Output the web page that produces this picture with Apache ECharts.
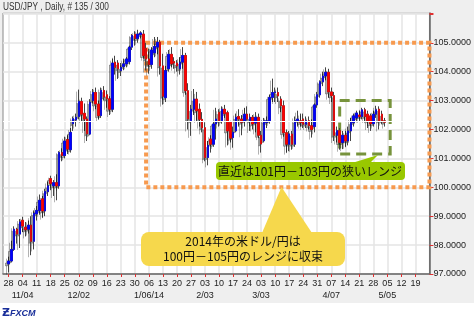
<!DOCTYPE html>
<html><head><meta charset="utf-8">
<script src="https://cdn.jsdelivr.net/npm/echarts@6/dist/echarts.min.js"></script>
<style>html,body{margin:0;padding:0;background:#fff}#c{width:474px;height:321px}</style>
</head><body><div id="c"></div><script>
// trading-day categories (Mon-Fri), incl. empty days before/after the data
const dates = [
'10/24','10/25',
'10/28','10/29','10/30','10/31','11/01',
'11/04','11/05','11/06','11/07','11/08',
'11/11','11/12','11/13','11/14','11/15',
'11/18','11/19','11/20','11/21','11/22',
'11/25','11/26','11/27','11/28','11/29',
'12/02','12/03','12/04','12/05','12/06',
'12/09','12/10','12/11','12/12','12/13',
'12/16','12/17','12/18','12/19','12/20',
'12/23','12/24','12/25','12/26','12/27',
'12/30','12/31','01/01','01/02','01/03',
'01/06','01/07','01/08','01/09','01/10',
'01/13','01/14','01/15','01/16','01/17',
'01/20','01/21','01/22','01/23','01/24',
'01/27','01/28','01/29','01/30','01/31',
'02/03','02/04','02/05','02/06','02/07',
'02/10','02/11','02/12','02/13','02/14',
'02/17','02/18','02/19','02/20','02/21',
'02/24','02/25','02/26','02/27','02/28',
'03/03','03/04','03/05','03/06','03/07',
'03/10','03/11','03/12','03/13','03/14',
'03/17','03/18','03/19','03/20','03/21',
'03/24','03/25','03/26','03/27','03/28',
'03/31','04/01','04/02','04/03','04/04',
'04/07','04/08','04/09','04/10','04/11',
'04/14','04/15','04/16','04/17','04/18',
'04/21','04/22','04/23','04/24','04/25',
'04/28','04/29','04/30','05/01','05/02',
'05/05','05/06','05/07','05/08','05/09',
'05/12','05/13','05/14','05/15','05/16',
'05/19','05/20','05/21','05/22','05/23',
'05/26'];
const firstPriceDate = '10/28';

const tickDates = ['10/28','11/04','11/11','11/18','11/25','12/02','12/09','12/16','12/23','12/30','01/06','01/13','01/20','01/27','02/03','02/10','02/17','02/24','03/03','03/10','03/17','03/24','03/31','04/07','04/14','04/21','04/28','05/05','05/12','05/19'];
const tickLabels = ['28','04','11','18','25','02','09','16','23','30','06','13','20','27','03','10','17','24','03','10','17','24','31','07','14','21','28','05','12','19'];
const monthLabels = ['','11/04','','','','12/02','','','','','1/06/14','','','','2/03','','','','3/03','','','','','4/07','','','','5/05','',''];
const yLabelMax = 105;

const open = [
97.35,97.45,97.85,98.55,98.38, 98.86,98.62,98.55,98.69,98.13, 99.08,99.20,99.60,99.18,99.85,
100.30,100.05,100.16,100.05,101.20, 101.10,101.65,101.30,102.20,102.33, 102.45,102.97,102.56,102.36,101.84,
103.00,103.28,102.88,102.48,103.35, 103.20,103.06,102.70,104.33,104.30, 104.04,104.18,104.27,104.35,104.85,
105.29,105.15,105.28,105.30,104.80, 104.44,104.25,104.65,104.85,105.02, 104.20,103.10,104.10,104.60,104.35,
104.30,104.10,104.33,104.56,103.34, 102.30,102.70,103.05,102.70,102.35, 102.06,101.03,101.67,101.49,102.19,
102.59,102.30,102.70,102.58,102.25, 101.72,101.95,102.45,102.36,102.30, 102.53,102.30,102.42,102.22,102.42,
101.80,101.61,102.24,102.30,103.11, 103.28,103.28,103.05,102.82,101.89, 101.49,101.84,101.49,102.30,102.30,
102.36,102.18,102.30,102.13,102.10, 102.85,103.20,103.65,103.85,103.98, 103.30,103.17,101.80,101.96,101.55,
101.80,101.60,101.95,102.24,102.40, 102.50,102.45,102.68,102.53,102.47, 102.20,102.53,102.70,102.53,102.30];
const close = [
97.45,97.85,98.55,98.38,98.80, 98.66,98.53,98.69,98.13,99.10, 99.20,99.55,99.18,99.85,100.05,
100.13,100.16,100.05,101.20,101.10, 101.60,101.32,101.90,102.37,102.42, 102.97,102.53,102.36,101.85,102.94,
103.28,102.88,102.48,103.35,103.12, 103.06,102.70,104.30,104.15,104.10, 104.15,104.27,104.44,104.85,105.25,
105.15,105.30,105.34,104.56,104.44, 104.25,104.75,104.87,105.02,104.20, 103.15,104.04,104.60,104.27,104.30,
104.20,104.33,104.56,103.34,102.36, 102.70,103.05,102.65,102.35,102.06, 101.03,101.45,101.49,102.19,102.36,
102.30,102.70,102.55,101.95,101.70, 101.90,102.42,102.36,102.25,102.53, 102.36,102.42,102.19,102.42,101.80,
101.50,102.30,102.30,103.11,103.28, 103.30,103.16,102.82,101.89,101.49, 101.84,101.49,102.30,102.36,102.24,
102.18,102.30,102.13,102.00,102.85, 103.20,103.65,103.85,103.98,103.30, 103.17,101.80,101.96,101.55,101.80,
101.60,101.95,102.24,102.47,102.57, 102.45,102.68,102.45,102.30,102.20, 102.53,102.68,102.30,102.30,102.25];
const low = [
97.05,97.40,97.80,98.05,97.90, 98.45,98.30,98.40,97.65,97.85, 98.85,99.05,98.95,99.00,99.70,
99.90,99.70,99.55,99.95,100.90, 101.00,101.15,101.20,101.95,102.10, 102.35,102.30,101.95,101.60,101.80,
102.90,102.70,102.35,102.40,103.00, 102.75,102.50,102.60,103.90,103.75, 103.85,104.05,104.15,104.25,104.75,
104.90,105.00,105.15,104.45,104.04, 103.93,104.10,104.50,104.60,103.90, 102.86,102.95,104.00,104.15,104.10,
104.00,103.90,104.10,103.20,102.00, 101.78,102.50,102.30,102.10,101.90, 100.90,100.76,101.20,101.40,101.65,
102.10,102.20,102.40,101.45,101.55, 101.37,101.90,102.10,101.80,102.10, 102.30,101.95,102.00,101.90,101.70,
101.20,101.55,102.05,102.20,102.95, 102.95,102.95,102.60,101.75,101.20, 101.25,101.30,101.40,102.10,102.10,
102.05,102.05,102.00,101.72,101.90, 102.75,103.10,103.50,103.70,103.10, 102.95,101.60,101.55,101.30,101.32,
101.40,101.45,101.60,102.10,102.25, 102.30,102.35,102.30,102.05,101.95, 102.10,102.40,102.00,102.20,102.10];
const high = [
97.60,98.15,98.65,98.60,98.90, 98.98,98.80,98.85,99.00,99.20, 99.35,99.75,99.70,99.95,100.20,
100.40,100.25,100.45,101.25,101.35, 101.75,101.80,102.05,102.45,102.55, 103.38,103.10,102.90,102.45,103.05,
103.40,103.45,103.00,103.45,103.50, 103.35,103.15,104.45,104.55,104.40, 104.30,104.45,104.50,104.90,105.30,
105.40,105.45,105.40,105.44,105.00, 104.80,104.85,105.20,105.20,105.10, 104.62,104.20,104.75,104.85,104.50,
104.40,104.50,104.85,104.65,103.60, 102.85,103.40,103.30,102.90,102.60, 102.25,101.60,101.80,102.25,102.75,
102.70,102.80,102.85,102.65,102.30, 102.10,102.55,102.70,102.50,102.75, 102.80,102.55,102.50,102.60,102.55,
101.95,102.40,102.45,103.20,103.76, 103.45,103.45,103.15,103.00,102.00, 101.95,101.95,102.45,102.65,102.55,
102.55,102.45,102.45,102.35,102.90, 103.30,103.70,104.00,104.15,104.10, 103.45,103.30,102.10,102.05,101.95,
101.95,102.10,102.40,102.55,102.65, 102.65,102.75,102.75,102.65,102.55, 102.65,102.82,102.80,102.65,102.40];

const currentPrice = 102.30;
const rangeBox = {from:'01/03', to:'05/26', low:100, high:105};
const recentBox = {from:'04/10', to:'05/06', low:101.15, high:103.0};

const start = dates.indexOf(firstPriceDate);
const ohlc = dates.map((d,i)=>{const j=i-start; return (j>=0&&j<open.length)?[open[j],close[j],low[j],high[j]]:'-';});
const bodies = dates.map((d,i)=>{const j=i-start; return (j>=0&&j<open.length)?[open[j],close[j],Math.min(open[j],close[j]),Math.max(open[j],close[j])]:'-';});

const isTick = (idx, val) => tickDates.indexOf(val) >= 0;
const isMonth = (idx, val) => { const k = tickDates.indexOf(val); return k >= 0 && monthLabels[k] !== ''; };
const chart = echarts.init(document.getElementById('c'));
chart.setOption({
  animation:false,
  backgroundColor:'#efefef',
  textStyle:{fontFamily:'"Liberation Sans", Arial, sans-serif'},
  grid:{left:3, top:13, width:429, height:261, show:true, backgroundColor:'#fff', borderColor:'#888', borderWidth:1},
  xAxis:[
   {type:'category', data:dates, boundaryGap:false,
    axisLine:{show:true, lineStyle:{color:'#666', width:1.5}},
    axisTick:{show:true, interval:isTick, length:3, lineStyle:{color:'#e03030', width:1}},
    axisLabel:{interval:isTick, showMinLabel:true, showMaxLabel:true, color:'#222', fontSize:9, margin:5,
      formatter:(v)=>{const k=tickDates.indexOf(v); return k<0?'':tickLabels[k];}},
    splitLine:{show:true, interval:isTick, lineStyle:{color:'#e4e4e4', width:1.5}}},
   {type:'category', data:dates, boundaryGap:false, position:'bottom', offset:12,
    axisLine:{show:false}, axisTick:{show:false}, splitLine:{show:false},
    axisLabel:{interval:isMonth, showMinLabel:true, showMaxLabel:true, color:'#222', fontSize:9, margin:5,
      formatter:(v)=>{const k=tickDates.indexOf(v); return k<0?'':monthLabels[k];}}}
  ],
  yAxis:{type:'value', position:'right', min:97, max:106.03, interval:1,
    axisLine:{show:true, lineStyle:{color:'#666', width:1.5}},
    axisTick:{show:true, length:4, lineStyle:{color:'#e03030'}},
    axisLabel:{color:'#222', fontSize:9, margin:4, formatter:(v)=> v>yLabelMax+0.01 ? '' : v.toFixed(4)},
    splitLine:{show:true, lineStyle:{color:'#e4e4e4', width:1.5}}},
  series:[
    {type:'candlestick', data:ohlc, barWidth:2, silent:true,
     itemStyle:{color:'#555', color0:'#555', borderColor:'#444', borderColor0:'#444', borderWidth:1,
       shadowColor:'rgba(0,0,0,0.3)', shadowBlur:0, shadowOffsetX:-2, shadowOffsetY:2},
     markLine:{silent:true, symbol:'none', label:{show:false}, lineStyle:{color:'#fff', width:1, type:'solid'},
       data:[{yAxis:currentPrice}]},
     markArea:{silent:true, label:{show:false},
       itemStyle:{color:'rgba(0,0,0,0)', borderColor:'#f79a4f', borderWidth:4, borderType:[4,3]},
       data:[[{coord:[rangeBox.from, rangeBox.high]},{coord:[rangeBox.to, rangeBox.low]}]]}},
    {type:'candlestick', data:bodies, barWidth:2, silent:true,
     itemStyle:{color:'#0000ff', color0:'#ff0000', borderColor:'#0000ff', borderColor0:'#ff0000', borderWidth:0.6},
     markArea:{silent:true, label:{show:false},
       itemStyle:{color:'rgba(0,0,0,0)', borderColor:'#77933c', borderWidth:3, borderType:[10,6]},
       data:[[{coord:[recentBox.from, recentBox.high]},{coord:[recentBox.to, recentBox.low]}]]}}
  ],
  graphic:[
    {type:'text', x:3, y:2, z:50, scaleX:0.83, style:{text:'USD/JPY , Daily, # 135 / 300', font:'10px "Liberation Sans",sans-serif', fill:'#333'}},
    {type:'rect', z:-5, shape:{x:0,y:303,width:474,height:18}, style:{fill:'#fff'}},
    {type:'text', x:2, y:308, z:50, style:{rich:{z:{fontSize:11,fontWeight:'bold',fill:'#1a2f9a',fontFamily:'DejaVu Sans'},t:{fontSize:9,fontWeight:'bold',fontStyle:'italic',fill:'#1a2f9a',fontFamily:'Liberation Sans'}}, text:'{z|Ƶ}{t|FXCM}'}},
    // green callout
    {type:'polygon', z:60, shape:{points:[[352,163],[370,163],[378,155]]}, style:{fill:'#99c800'}},
    {type:'rect', z:60, shape:{x:216,y:162,width:189,height:18,r:4}, style:{fill:'#99c800'}},
    {type:'text', z:61, x:310, y:171.5, style:{text:'直近は101円－103円の狭いレンジ', fontSize:12, fontFamily:'"Noto Sans CJK JP"', fill:'#111', align:'center', verticalAlign:'middle'}},
    // yellow callout
    {type:'polygon', z:60, shape:{points:[[262,233],[281.5,187],[312,233]]}, style:{fill:'#f6d84c'}},
    {type:'rect', z:60, shape:{x:141,y:232,width:204,height:34,r:8}, style:{fill:'#f6d84c'}},
    {type:'text', z:61, x:243, y:241.5, style:{text:'2014年の米ドル/円は', fontSize:12, fontFamily:'"Noto Sans CJK JP"', fill:'#111', align:'center', verticalAlign:'middle'}},
    {type:'text', z:61, x:243, y:256, style:{text:'100円－105円のレンジに収束', fontSize:12, fontFamily:'"Noto Sans CJK JP"', fill:'#111', align:'center', verticalAlign:'middle'}}
  ]
});
</script></body></html>
